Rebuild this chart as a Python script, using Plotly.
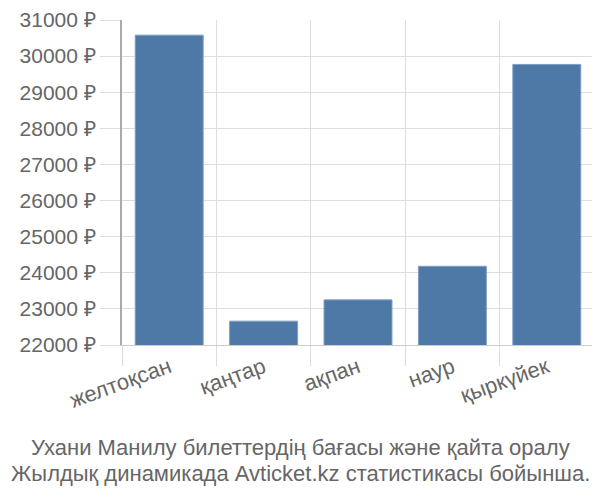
import plotly.graph_objects as go

months = ["желтоқсан", "қаңтар", "ақпан", "наур", "қыркүйек"]
prices = [30580, 22660, 23250, 24180, 29770]
y_ticks = [22000, 23000, 24000, 25000, 26000, 27000, 28000, 29000, 30000, 31000]
y_labels = [f"{v} ₽" for v in y_ticks]
title_lines = ["Ухани Манилу билеттердің бағасы және қайта оралу",
               "Жылдық динамикада Avticket.kz статистикасы бойынша."]

fig = go.Figure(go.Bar(
    x=months, y=prices,
    marker=dict(color="#4e79a7", line=dict(color="#7f9fc4", width=1)),
    width=0.72,
))

# page body has an 8px margin, so the figure is 592x492 at offset (8, 8)
W, H = 592, 492
L, R, T, B = 114, 6, 12, 155
fig.update_layout(
    width=W, height=H,
    margin=dict(l=L, r=R, t=T, b=B, autoexpand=False),
    paper_bgcolor="white", plot_bgcolor="white",
    font=dict(family="Liberation Sans, Arial, sans-serif", size=21, color="#666666"),
    showlegend=False,
)
fig.update_xaxes(
    type="category", tickson="boundaries", automargin=False,
    showgrid=True, gridcolor="#dddddd", gridwidth=1,
    ticks="outside", ticklen=20, tickcolor="#dddddd",
    tickangle=-20, tickfont=dict(size=22, color="#666666"),
    showline=True, linecolor="#cccccc", linewidth=1,
    range=[-0.5, 4.5],
)
fig.update_yaxes(
    range=[22000, 31000], tickvals=y_ticks, ticktext=y_labels, automargin=False,
    ticklabeloverflow="allow",
    showgrid=True, gridcolor="#dddddd", gridwidth=1,
    ticks="outside", ticklen=20, tickcolor="#dddddd",
    showline=True, linecolor="#aaaaaa", linewidth=2,
    zeroline=False, tickfont=dict(size=21, color="#666666"),
)
plot_w = W - L - R
plot_h = H - T - B
cx = (300 - 8 - L) / plot_w
for line, ypx in zip(title_lines, [447, 473]):
    fig.add_annotation(
        text=line, xref="paper", yref="paper",
        x=cx, y=(H - B - (ypx - 8)) / plot_h, xanchor="center", yanchor="middle",
        showarrow=False, font=dict(size=22, color="#666666"),
    )
fig.write_html("out.html")
